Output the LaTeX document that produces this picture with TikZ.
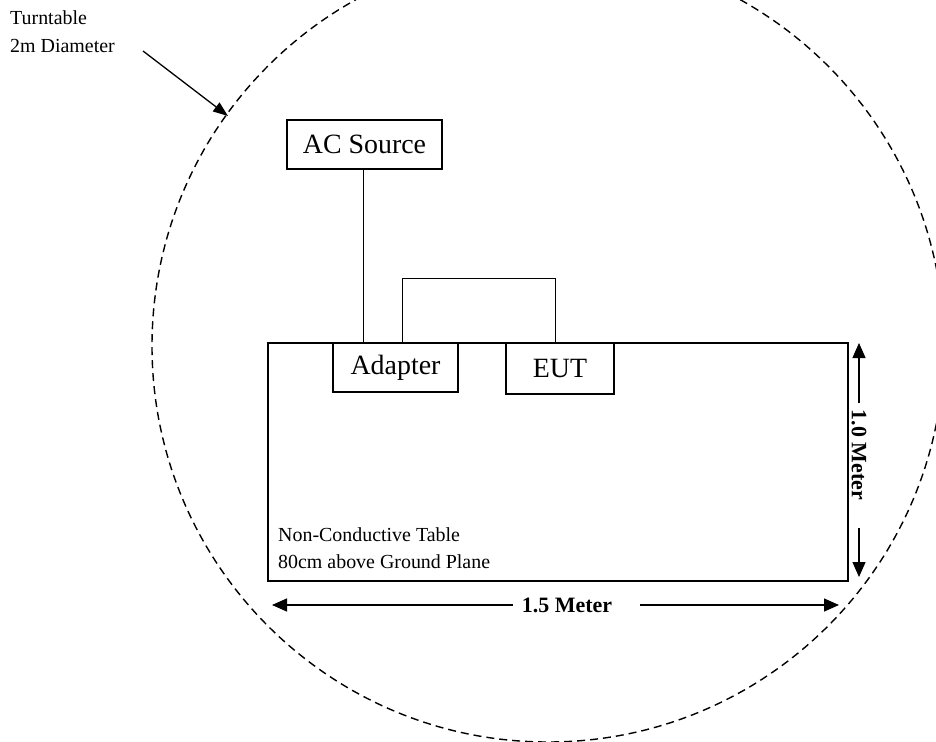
\documentclass[tikz,border=0pt]{standalone}
\usepackage{fontspec}
\setmainfont{Liberation Serif}
\usetikzlibrary{arrows.meta}
\begin{document}
\begin{tikzpicture}[x=1bp,y=-1bp,
  box/.style={draw, fill=white, line width=1.4bp, inner sep=0, font=\fontsize{28}{32}\selectfont},
  tablebox/.style={draw, line width=2bp, inner sep=0},
  wire/.style={line width=0.9bp},
  dim/.style={line width=1.3bp, -{Triangle[length=15bp,width=13bp]}},
  pointer/.style={line width=1.3bp, -{Triangle[length=15bp,width=11bp]}},
  lbl/.style={font=\fontsize{20}{24}\selectfont, inner sep=0},
  boldlbl/.style={font=\bfseries\fontsize{22}{26}\selectfont, inner sep=0},
  turn/.style={line width=1.4bp, dash pattern=on 8bp off 5bp}]
\useasboundingbox (0,0) rectangle (936,742);
% turntable
\draw[turn] (548,346) circle[radius=396];
% table
\node[tablebox, minimum width=580bp, minimum height=238bp] (table) at (558,462) {};
% boxes
\node[box, minimum width=155bp, minimum height=49bp] (ac) at (364.5,144.5) {AC Source};
\node[box, minimum width=125bp, minimum height=49bp] (adapter) at (395.5,367.5) {Adapter};
\node[box, minimum width=108bp, minimum height=51bp] (eut) at (560,368.5) {EUT};
% wires
\draw[wire] ([xshift=-1.5bp]ac.south) -- ([xshift=-1.5bp]ac.south |- adapter.north);
\draw[wire] ([xshift=6.5bp]adapter.north) -- ++(0,-64) -| ([xshift=-5bp]eut.north);
% turntable label
\node[lbl, anchor=base west] (tt1) at (10,25) {Turntable};
\node[lbl, anchor=base west] (tt2) at (10,53) {2m Diameter};
\coordinate (ptrstart) at (143,51);
\coordinate (ptrend) at (228,116);
\draw[pointer] (ptrstart) -- (ptrend);
% table label
\node[lbl, anchor=base west] (tl1) at (278,541) {Non-Conductive Table};
\node[lbl, anchor=base west] (tl2) at (278,568) {80cm above Ground Plane};
% vertical dimension
\node[boldlbl, rotate=-90] (vlen) at (859,455) {1.0 Meter};
\coordinate (vg1) at (859,403);
\coordinate (vt) at (859,343);
\coordinate (vg2) at (859,528);
\coordinate (vb) at (859,577);
\draw[dim] (vg1) -- (vt);
\draw[dim] (vg2) -- (vb);
% horizontal dimension
\node[boldlbl] (hlen) at (567,605) {1.5 Meter};
\coordinate (hg1) at (513,605);
\coordinate (hl) at (272,605);
\coordinate (hg2) at (640,605);
\coordinate (hr) at (839,605);
\draw[dim] (hg1) -- (hl);
\draw[dim] (hg2) -- (hr);
\end{tikzpicture}
\end{document}
